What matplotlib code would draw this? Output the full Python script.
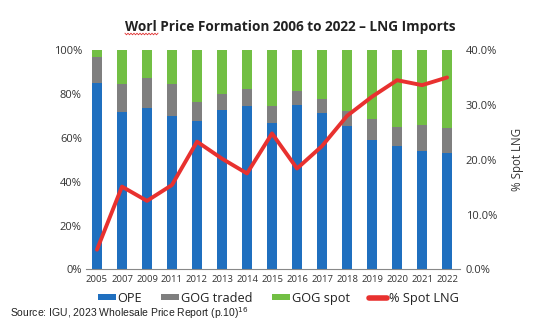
import matplotlib
matplotlib.use("Agg")
import matplotlib.pyplot as plt
import numpy as np

years = ["2005", "2007", "2009", "2011", "2012", "2013", "2014", "2015",
         "2016", "2017", "2018", "2019", "2020", "2021", "2022"]
ope = [85.1, 71.7, 73.5, 69.9, 67.5, 72.5, 74.3, 66.6,
       74.8, 71.1, 65.3, 59.1, 56.1, 54.0, 52.9]
gog_traded = [11.6, 12.8, 13.6, 14.6, 8.7, 7.5, 7.9, 7.9,
              6.5, 6.4, 6.7, 9.4, 8.8, 11.8, 11.5]
gog_spot = [100 - a - b for a, b in zip(ope, gog_traded)]
spot_lng = [3.6, 15.1, 12.5, 15.4, 23.3, 20.2, 17.5, 24.8,
            18.4, 22.5, 28.0, 31.5, 34.5, 33.6, 35.0]

BLUE = "#1f6fbf"
GREY = "#7f7f7f"
GREEN = "#72bf44"
RED = "#e8312f"
TXT = "#333333"

plt.rcParams['font.family'] = ['Open Sans', 'DejaVu Sans']

fig = plt.figure(figsize=(5.51, 3.25), dpi=100)
ax = fig.add_axes([0.156, 0.171, 0.679, 0.675])

x = np.arange(len(years))
w = 0.42
b1 = ax.bar(x, ope, w, color=BLUE, label="OPE")
b2 = ax.bar(x, gog_traded, w, bottom=ope, color=GREY, label="GOG traded")
bottom2 = [a + b for a, b in zip(ope, gog_traded)]
b3 = ax.bar(x, gog_spot, w, bottom=bottom2, color=GREEN, label="GOG spot")

ax.set_xlim(-0.44, 14.52)
ax.set_ylim(0, 100)
ax.set_yticks(np.arange(0, 101, 20))
ax.set_yticklabels([f"{v}%" for v in range(0, 101, 20)], fontsize=8, color=TXT)
ax.set_xticks(x)
ax.set_xticklabels(years, fontsize=6.8, color=TXT)
ax.tick_params(axis='both', length=0, pad=3)
ax.tick_params(axis='x', pad=4)
for s in ["top", "right", "left"]:
    ax.spines[s].set_visible(False)
ax.spines["bottom"].set_color("#888888")
ax.spines["bottom"].set_linewidth(0.8)

ax2 = ax.twinx()
ln, = ax2.plot(x, spot_lng, color=RED, lw=2.8, solid_capstyle='round',
               solid_joinstyle='round', label="% Spot LNG")
ax2.set_ylim(0, 40)
ax2.set_yticks(np.arange(0, 41, 10))
ax2.set_yticklabels([f"{v:.1f}%" for v in range(0, 41, 10)], fontsize=8, color=TXT)
ax2.tick_params(axis='y', length=0, pad=4)
for s in ["top", "right", "left", "bottom"]:
    ax2.spines[s].set_visible(False)
ax2.set_ylabel("% Spot LNG", fontsize=8.3, color=TXT, labelpad=10)

fig.text(0.527, 0.918, "Worl Price Formation 2006 to 2022 \u2013 LNG Imports",
         ha="center", va="center", fontsize=9.8, fontweight="bold", color="#222222")
# spell-check squiggle under "Worl"
zx = np.linspace(125, 158, 23)
zy = 325 - 34 + np.where(np.arange(23) % 2 == 0, 0.8, -0.8)
fig.add_artist(plt.Line2D(zx / 551, zy / 325, color="#e03030", lw=0.6))

leg = fig.legend(handles=[b1, b2, b3, ln],
                 labels=["OPE", "GOG traded", "GOG spot", "% Spot LNG"],
                 loc="center", bbox_to_anchor=(0.505, 0.083), ncol=4,
                 frameon=False, fontsize=9.2, handlelength=1.4, handleheight=0.38,
                 handletextpad=0.15, columnspacing=1.5)
for t in leg.get_texts():
    t.set_color("#222222")
leg.legend_handles[3].set_linewidth(4)

fig.text(0.018, 0.037, "Source: IGU, 2023 Wholesale Price Report (p.10)$^{16}$",
         fontsize=7.5, family="Liberation Sans", color="#222222", va="center")

fig.savefig("out.png", dpi=100)
